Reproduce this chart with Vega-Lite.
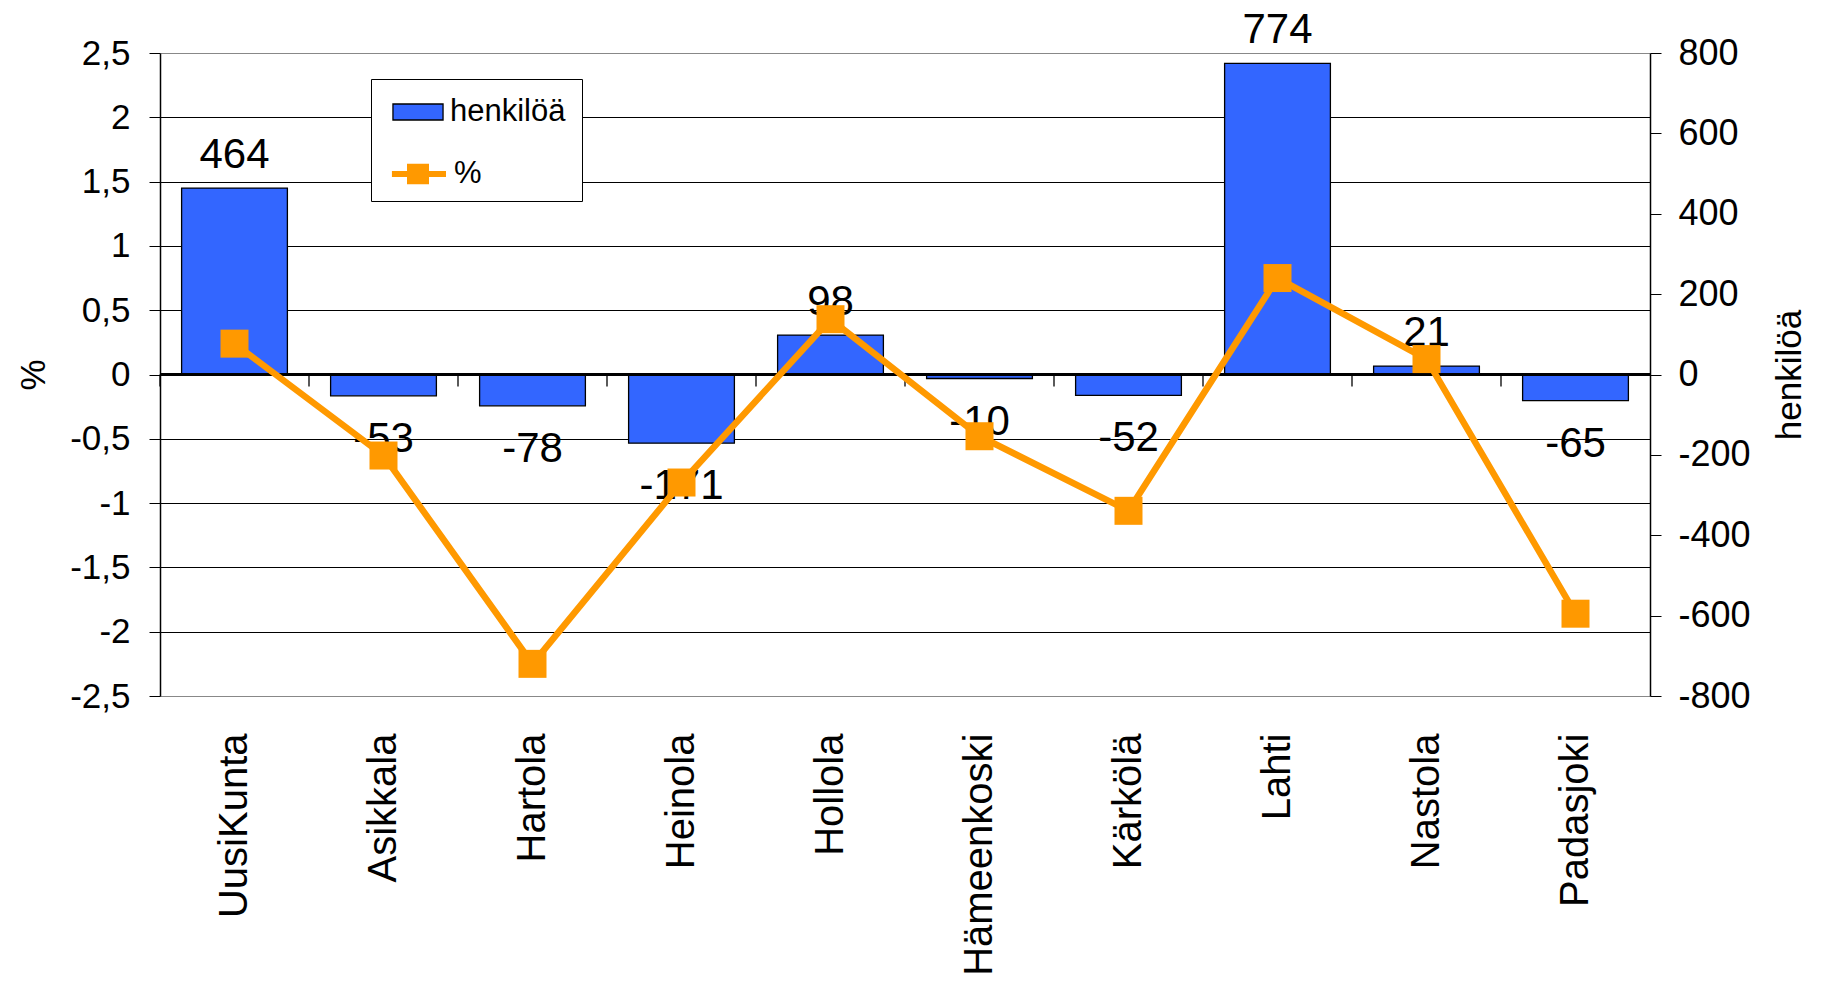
{
  "$schema": "https://vega.github.io/schema/vega-lite/v6.json",
  "width": 1490,
  "height": 643,
  "autosize": {"type": "none"},
  "padding": {"left": 160, "top": 53, "right": 175, "bottom": 288},
  "background": "white",
  "config": {
    "view": {"stroke": null},
    "font": "Liberation Sans",
    "axis": {
      "labelFont": "Liberation Sans",
      "labelColor": "black",
      "labelFontSize": 35,
      "titleFont": "Liberation Sans",
      "titleFontSize": 35,
      "titleFontWeight": "normal",
      "titleColor": "black",
      "tickColor": "black",
      "domainColor": "black"
    }
  },
  "data": {
    "values": [
      {"kunta": "UusiKunta", "hlo": 464, "pct": 0.24},
      {"kunta": "Asikkala", "hlo": -53, "pct": -0.63},
      {"kunta": "Hartola", "hlo": -78, "pct": -2.25},
      {"kunta": "Heinola", "hlo": -171, "pct": -0.84},
      {"kunta": "Hollola", "hlo": 98, "pct": 0.43},
      {"kunta": "Hämeenkoski", "hlo": -10, "pct": -0.48},
      {"kunta": "Kärkölä", "hlo": -52, "pct": -1.06},
      {"kunta": "Lahti", "hlo": 774, "pct": 0.75},
      {"kunta": "Nastola", "hlo": 21, "pct": 0.12},
      {"kunta": "Padasjoki", "hlo": -65, "pct": -1.86}
    ]
  },
  "layer": [
    {
      "layer": [
        {
          "mark": {"type": "bar", "width": {"band": 0.71}, "stroke": "black", "strokeWidth": 1.3},
          "encoding": {
            "x": {
              "field": "kunta", "type": "nominal", "sort": null,
              "scale": {"paddingInner": 0, "paddingOuter": 0},
              "axis": {
                "orient": "bottom", "title": null, "labelAngle": -90, "labelFontSize": 40,
                "labelLimit": 0, "ticks": false, "tickSize": 0, "domain": false, "labelPadding": 37
              }
            },
            "y": {
              "field": "hlo", "type": "quantitative",
              "scale": {"domain": [-800, 800], "nice": false, "zero": false},
              "axis": {
                "orient": "right", "title": "henkilöä",
                "values": [-800, -600, -400, -200, 0, 200, 400, 600, 800],
                "labelExpr": "toString(datum.value)", "labelFontSize": 36,
                "grid": false, "tickSize": 11, "labelPadding": 17, "domainWidth": 1.5,
                "titleAngle": 270, "titleBaseline": "top", "titlePadding": 22
              }
            },
            "fill": {
              "datum": "henkilöä", "type": "nominal",
              "scale": {"domain": ["henkilöä", "%"], "range": ["#3366FF", "#FFFFFF"]},
              "legend": {
                "title": null, "orient": "none", "legendX": 211, "legendY": 26,
                "direction": "vertical", "strokeColor": "black", "fillColor": "white",
                "padding": 16, "labelFontSize": 31, "labelFont": "Liberation Sans",
                "labelColor": "black", "symbolSize": 1024, "rowPadding": 26, "labelOffset": 29,
                "symbolType": "M-0.69,-0.5H2.44V0.5H-0.69Z",
                "symbolStrokeColor": "black", "symbolStrokeWidth": 1.3, "symbolOpacity": 1,
                "labelExpr": "datum.value === '%' ? '' : datum.label"
              }
            }
          }
        },
        {
          "transform": [{"filter": "datum.hlo >= 0"}],
          "mark": {"type": "text", "fontSize": 42, "color": "black", "baseline": "alphabetic", "dy": -20, "font": "Liberation Sans"},
          "encoding": {
            "x": {"field": "kunta", "type": "nominal", "sort": null},
            "y": {"field": "hlo", "type": "quantitative"},
            "text": {"field": "hlo", "type": "nominal"}
          }
        },
        {
          "transform": [{"filter": "datum.hlo < 0"}],
          "mark": {"type": "text", "fontSize": 42, "color": "black", "baseline": "alphabetic", "dy": 56, "font": "Liberation Sans"},
          "encoding": {
            "x": {"field": "kunta", "type": "nominal", "sort": null},
            "y": {"field": "hlo", "type": "quantitative"},
            "text": {"field": "hlo", "type": "nominal"}
          }
        }
      ]
    },
    {
      "layer": [
        {
          "mark": {"type": "rule", "color": "black", "strokeWidth": 2},
          "encoding": {"y": {"datum": 0, "type": "quantitative"}}
        },
        {
          "mark": {"type": "rule", "color": "black", "strokeWidth": 1.3},
          "encoding": {
            "x": {"field": "kunta", "type": "nominal", "sort": null, "bandPosition": 0},
            "y": {"datum": 0, "type": "quantitative"},
            "y2": {"datum": -0.093}
          }
        },
        {
          "mark": {"type": "line", "strokeWidth": 6.5},
          "encoding": {
            "x": {"field": "kunta", "type": "nominal", "sort": null},
            "y": {
              "field": "pct", "type": "quantitative",
              "scale": {"domain": [-2.5, 2.5], "nice": false, "zero": false},
              "axis": {
                "orient": "left", "title": "%",
                "values": [-2.5, -2, -1.5, -1, -0.5, 0, 0.5, 1, 1.5, 2, 2.5],
                "labelExpr": "replace(toString(datum.value), '.', ',')",
                "grid": true,
                "gridColor": {"condition": {"test": "abs(datum.value) == 2.5", "value": "#888888"}, "value": "black"},
                "gridWidth": 1.2, "tickSize": 11, "labelPadding": 19, "domainWidth": 1.5,
                "titlePadding": 18
              }
            },
            "stroke": {
              "datum": "%", "type": "nominal",
              "scale": {"domain": ["%"], "range": ["#FF9900"]},
              "legend": {
                "title": null, "orient": "none", "legendX": 225, "legendY": 100,
                "direction": "vertical", "strokeColor": null, "fillColor": "white",
                "padding": 2, "labelFontSize": 31, "labelFont": "Liberation Sans",
                "labelColor": "black", "symbolSize": 1024, "labelOffset": 29,
                "symbolType": "M-0.88,0H2.5M0.25,-0.45H1.25V0.45H0.25Z",
                "symbolFillColor": "#FF9900", "symbolStrokeColor": "#FF9900",
                "symbolStrokeWidth": 6, "symbolOpacity": 1
              }
            }
          }
        },
        {
          "mark": {"type": "point", "shape": "square", "filled": true, "size": 784, "color": "#FF9900", "opacity": 1},
          "encoding": {
            "x": {"field": "kunta", "type": "nominal", "sort": null},
            "y": {"field": "pct", "type": "quantitative"}
          }
        }
      ]
    }
  ],
  "resolve": {"scale": {"y": "independent"}, "axis": {"y": "independent"}}
}
